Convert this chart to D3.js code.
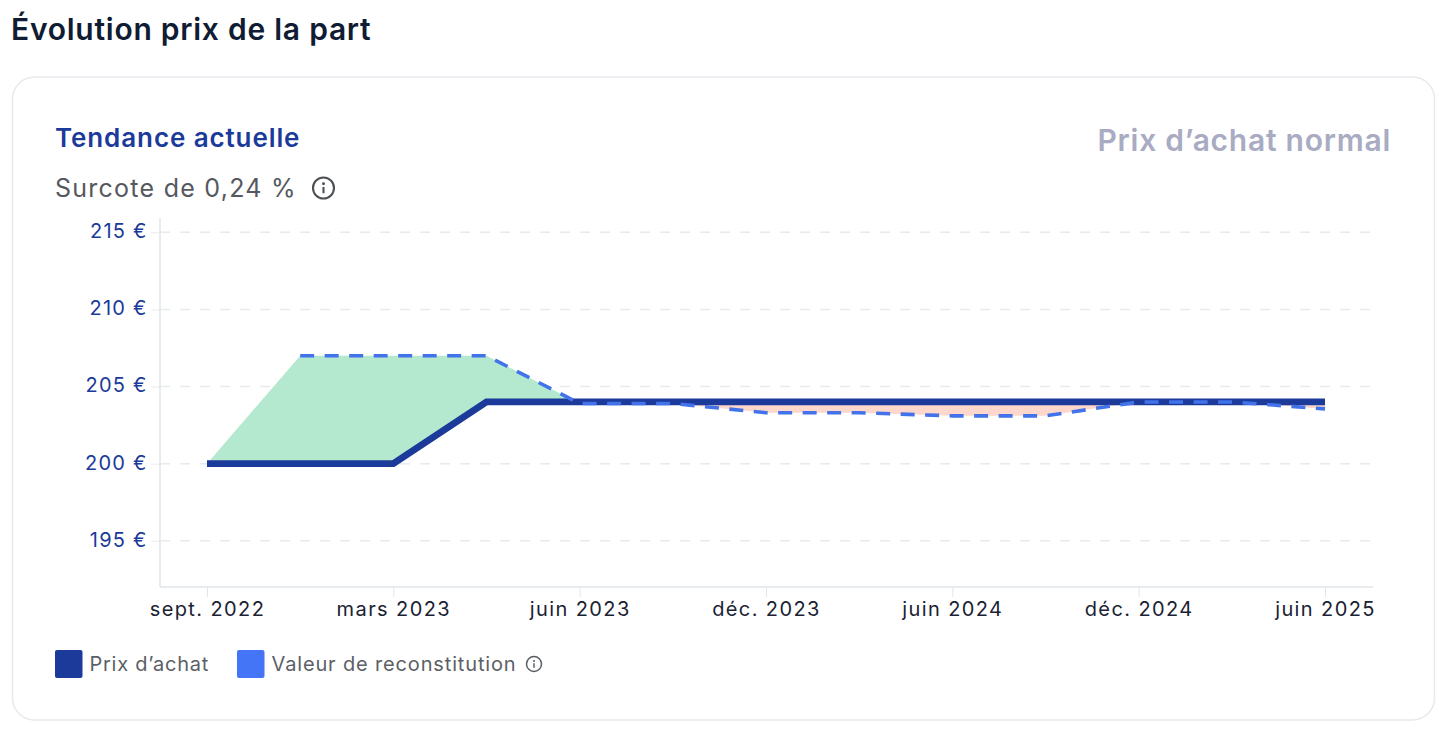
<!DOCTYPE html>
<html>
<head>
<meta charset="utf-8">
<script src="https://cdn.jsdelivr.net/npm/d3@7"></script>
<style>
    html, body { margin: 0; padding: 0; background: #fff; }
    svg { display: block; }
    text { font-family: Inter, "Noto Sans", sans-serif; }
    .axis path { display: none; }
</style>
</head>
<body>
<script>
const periods = ['sept. 2022', 'déc. 2022', 'mars 2023', 'avr. 2023', 'juin 2023', 'sept. 2023', 'déc. 2023',
    'mars 2024', 'juin 2024', 'sept. 2024', 'déc. 2024', 'mars 2025', 'juin 2025']
const xLabels = ['sept. 2022', 'mars 2023', 'juin 2023', 'déc. 2023', 'juin 2024', 'déc. 2024', 'juin 2025']
const yLabels = [195, 200, 205, 210, 215]
const prixAchat = [200, 200, 200, 204, 204, 204, 204, 204, 204, 204, 204, 204, 204]
const reconstitution = [200, 207, 207, 207, 203.9, 203.9, 203.3, 203.3, 203.1, 203.1, 204, 204, 203.55]
const legendItems = ['Prix d’achat', 'Valeur de reconstitution']

const dark = '#1b3a9a'
const blue = '#4273ea'

const svg = d3.select('body').append('svg')
    .attr('width', 1456)
    .attr('height', 748)

const x = d3.scalePoint().domain(periods).range([207, 1325])
const y = d3.scaleLinear().domain([192, 215.93]).range([587, 218])

const rows = periods.map((p, i) => ({ p, achat: prixAchat[i], recon: reconstitution[i] }))

const label = (px, py, str, size, weight, fill, spacing, anchor) => svg.append('text')
    .attr('x', px)
    .attr('y', py)
    .attr('font-size', size)
    .attr('font-weight', weight)
    .attr('fill', fill)
    .attr('letter-spacing', spacing)
    .attr('text-anchor', anchor || 'start')
    .text(str)

const infoIcon = (cx, cy, r, color) => {
    let g = svg.append('g').attr('transform', `translate(${cx},${cy})`)
    g.append('circle').attr('r', r).attr('fill', 'none').attr('stroke', color).attr('stroke-width', r * 0.2)
    g.append('circle').attr('cy', -r * 0.4).attr('r', r * 0.14).attr('fill', color)
    g.append('line').attr('y1', -r * 0.1).attr('y2', r * 0.5).attr('stroke', color).attr('stroke-width', r * 0.2)
}

// card and headings
svg.append('rect')
    .attr('x', 12.5).attr('y', 77)
    .attr('width', 1422).attr('height', 643)
    .attr('rx', 22)
    .attr('fill', '#fff')
    .attr('stroke', '#e7e9ed')
    .attr('stroke-width', 1.5)

label(11, 40, 'Évolution prix de la part', 30, 600, '#0f1c33', 0.75)
label(55, 147, 'Tendance actuelle', 26, 600, dark, 0.9)
label(1391, 151, 'Prix d’achat normal', 30, 600, '#a9abc3', 0.75, 'end')
label(55, 197, 'Surcote de 0,24 %', 25, 400, '#55585e', 1.25)
infoIcon(323.5, 188, 10.5, '#4d5055')

// axes
let yAxis = svg.append('g')
    .attr('class', 'axis')
    .attr('transform', 'translate(160,0)')
    .call(d3.axisLeft(y).tickValues(yLabels).tickSize(9).tickPadding(3.5).tickFormat(d => `${d} €`))
yAxis.selectAll('line').attr('stroke', '#e6ebef')
yAxis.selectAll('text').attr('font-size', 20).attr('fill', dark).attr('letter-spacing', 1.2).attr('y', -1)

let xAxis = svg.append('g')
    .attr('class', 'axis')
    .attr('transform', 'translate(0,587)')
    .call(d3.axisBottom(x).tickValues(xLabels).tickSize(10).tickPadding(5))
xAxis.selectAll('line').attr('stroke', '#e2e6ea')
xAxis.selectAll('text').attr('font-size', 20).attr('fill', '#1a2233').attr('letter-spacing', 1.4)

svg.append('g').selectAll('line')
    .data(yLabels).enter()
    .append('line')
    .attr('x1', 160).attr('x2', 1373)
    .attr('y1', d => y(d)).attr('y2', d => y(d))
    .attr('stroke', '#e6ebef')
    .attr('stroke-width', 1.5)
    .attr('stroke-dasharray', '10 10')

svg.append('line').attr('x1', 160).attr('x2', 160).attr('y1', 218).attr('y2', 587).attr('stroke', '#e2e6ea').attr('stroke-width', 1.5)
svg.append('line').attr('x1', 160).attr('x2', 1373).attr('y1', 587).attr('y2', 587).attr('stroke', '#e2e6ea').attr('stroke-width', 1.5)

// difference areas
const defs = svg.append('defs')
defs.append('clipPath').attr('id', 'above').append('path')
    .attr('d', d3.area().x(d => x(d.p)).y0(0).y1(d => y(d.achat))(rows))
defs.append('clipPath').attr('id', 'below').append('path')
    .attr('d', d3.area().x(d => x(d.p)).y0(748).y1(d => y(d.achat))(rows))

const between = d3.area().x(d => x(d.p)).y0(d => y(d.achat)).y1(d => y(d.recon))
svg.append('path').attr('d', between(rows)).attr('fill', '#b5e9cf').attr('clip-path', 'url(#above)')
svg.append('path').attr('d', between(rows)).attr('fill', '#fdd6cc').attr('clip-path', 'url(#below)')

// lines
const line = k => d3.line().x(d => x(d.p)).y(d => y(d[k]))
svg.append('path')
    .attr('d', line('achat')(rows))
    .attr('fill', 'none')
    .attr('stroke', dark)
    .attr('stroke-width', 6.8)

svg.append('path')
    .attr('d', line('recon')(rows.slice(1)))
    .attr('fill', 'none')
    .attr('stroke', blue)
    .attr('stroke-width', 3.6)
    .attr('stroke-dasharray', '14 10.5')

// legend
const legendX = [55, 237]
const legendSpacing = [0.75, 0.85]
legendItems.forEach((t, i) => {
    svg.append('rect')
        .attr('x', legendX[i]).attr('y', 650)
        .attr('width', 27.5).attr('height', 28)
        .attr('rx', 2)
        .attr('fill', i ? '#4475f6' : dark)
    label(legendX[i] + 34.5, 671, t, 20, 400, '#5c5f66', legendSpacing[i])
})
infoIcon(534, 664, 7.5, '#5c5f66')
</script>
</body>
</html>
